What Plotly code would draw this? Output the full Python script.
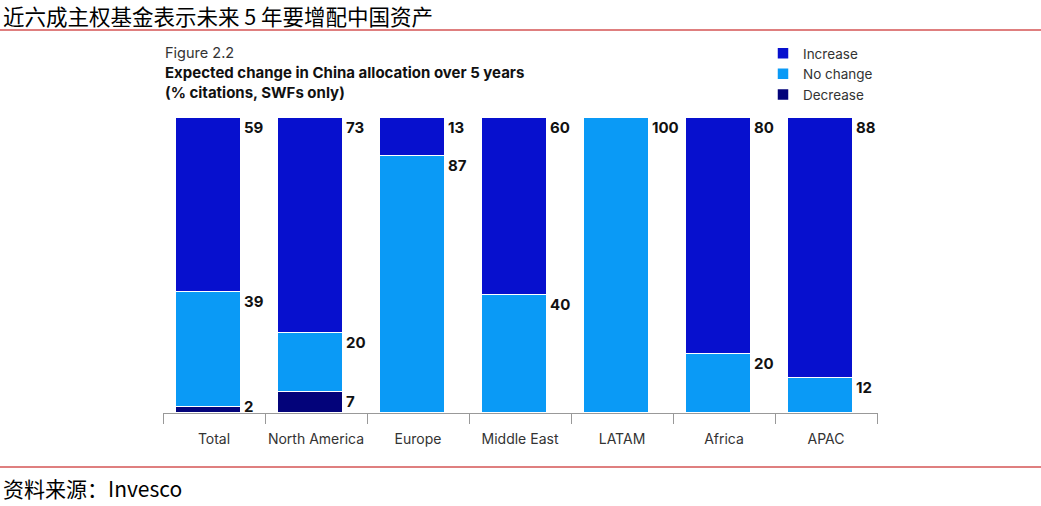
import plotly.graph_objects as go

categories = ["Total", "North America", "Europe", "Middle East", "LATAM", "Africa", "APAC"]
decrease = [2, 7, 0, 0, 0, 0, 0]
no_change = [39, 20, 87, 40, 100, 20, 12]
increase = [59, 73, 13, 60, 0, 80, 88]

series = [
    ("Decrease", decrease, "#03037A"),
    ("No change", no_change, "#0A9AF6"),
    ("Increase", increase, "#0710CE"),
]

FONT = "Inter, Open Sans, Arial, sans-serif"
CJK = "Noto Sans CJK SC, sans-serif"

fig = go.Figure()
for name, vals, color in series:
    fig.add_trace(go.Bar(
        x=categories, y=vals, name=name,
        marker=dict(color=color, line=dict(color="white", width=1.5)),
        width=0.63, offset=-0.37,
        hoverinfo="skip",
    ))

annotations = []
cum = [0] * len(categories)
for name, vals, color in series:
    for i, v in enumerate(vals):
        cum[i] += v
        if v > 0:
            small = v < 5
            annotations.append(dict(
                x=categories[i], y=cum[i], xref="x", yref="y",
                text=f"<b>{v}</b>", showarrow=False,
                xanchor="left", yanchor="middle" if small else "top",
                xshift=28, yshift=1 if small else 2,
                font=dict(family=FONT, size=15, color="#111"),
            ))

def px(xp):
    return (xp - 163) / 715

def py(yp):
    return (413 - yp) / 295

annotations += [
    dict(x=px(163), y=py(53), xref="paper", yref="paper", xanchor="left", yanchor="middle",
         text="Figure 2.2", showarrow=False, font=dict(family=FONT, size=14.5, color="#333")),
    dict(x=px(163), y=py(73), xref="paper", yref="paper", xanchor="left", yanchor="middle",
         text="<b>Expected change in China allocation over 5 years</b>", showarrow=False,
         font=dict(family=FONT, size=15, color="#111")),
    dict(x=px(163), y=py(92), xref="paper", yref="paper", xanchor="left", yanchor="middle",
         text="<b>(% citations, SWFs only)</b>", showarrow=False,
         font=dict(family=FONT, size=15, color="#111")),
    dict(x=px(1), y=py(16), xref="paper", yref="paper", xanchor="left", yanchor="middle",
         text="近六成主权基金表示未来 5 年要增配中国资产", showarrow=False,
         font=dict(family=CJK, size=21.5, color="#000")),
    dict(x=px(1), y=py(488), xref="paper", yref="paper", xanchor="left", yanchor="middle",
         text="资料来源：Invesco", showarrow=False,
         font=dict(family=CJK, size=21, color="#000")),
]

shapes = [
    dict(type="line", xref="paper", yref="paper", x0=px(0), x1=px(1041), y0=py(30), y1=py(30),
         line=dict(color="#C00000", width=1.2)),
    dict(type="line", xref="paper", yref="paper", x0=px(0), x1=px(1041), y0=py(467), y1=py(467),
         line=dict(color="#C00000", width=1.2)),
]

fig.update_layout(
    width=1041, height=506,
    margin=dict(l=163, r=163, t=118, b=93),
    paper_bgcolor="white", plot_bgcolor="white",
    barmode="stack", bargap=0,
    showlegend=True,
    legend=dict(
        x=px(763), y=py(38), xanchor="left", yanchor="top",
        traceorder="reversed", font=dict(family=FONT, size=13.5, color="#333"),
        itemwidth=30, tracegroupgap=0, bgcolor="rgba(0,0,0,0)",
    ),
    xaxis=dict(
        type="category", showline=True, linecolor="#999", linewidth=1,
        ticks="outside", tickson="boundaries", ticklen=10, tickcolor="#999",
        tickangle=0, ticklabelstandoff=13,
        tickfont=dict(family=FONT, size=14, color="#333"),
        showgrid=False, zeroline=False, fixedrange=True,
    ),
    yaxis=dict(range=[0, 100], visible=False, fixedrange=True),
    annotations=annotations,
    shapes=shapes,
    font=dict(family=FONT),
)

fig.write_html("out.html", config={"displayModeBar": False},
               post_script="document.body.style.margin='0';")
